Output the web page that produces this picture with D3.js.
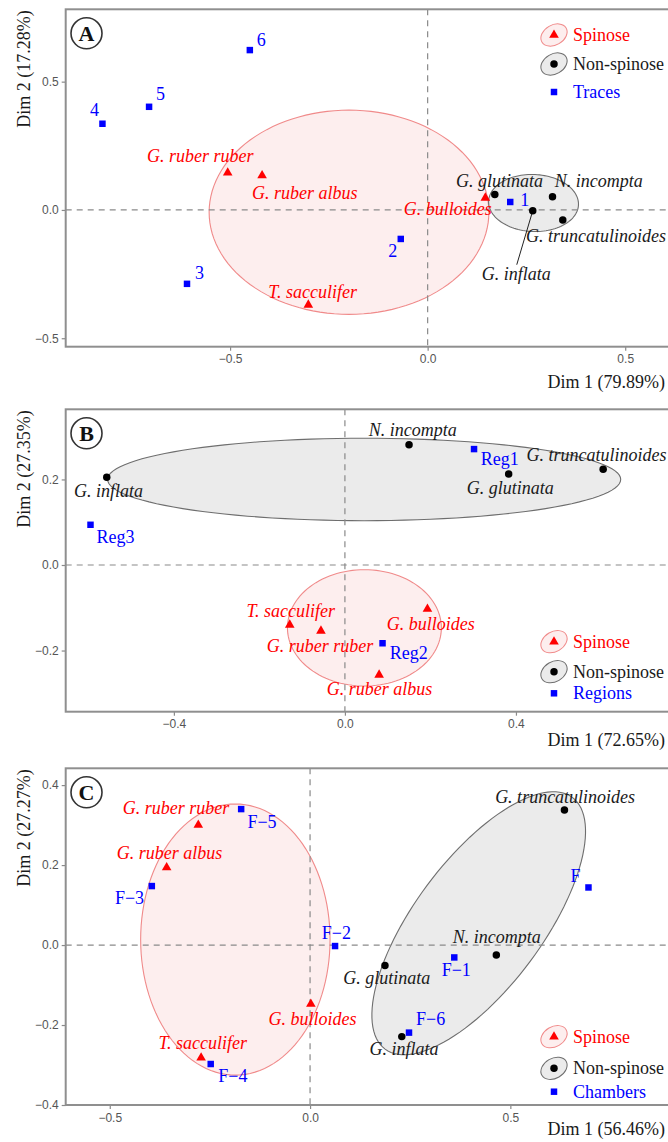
<!DOCTYPE html>
<html>
<head>
<meta charset="utf-8">
<script src="https://cdn.jsdelivr.net/npm/d3@7"></script>
<style>
  body { margin: 0; background: #fff; }
  svg { display: block; }
</style>
</head>
<body>
<div id="chart"></div>
<script>
// ---- data: panel A (traces) ----
const speciesA = [
  {name: "G. ruber ruber", group: "spinose", x: -0.506, y: 0.145},
  {name: "G. ruber albus", group: "spinose", x: -0.419, y: 0.134},
  {name: "T. sacculifer", group: "spinose", x: -0.302, y: -0.370},
  {name: "G. bulloides", group: "spinose", x: 0.146, y: 0.047},
  {name: "G. glutinata", group: "non", x: 0.170, y: 0.060},
  {name: "N. incompta", group: "non", x: 0.316, y: 0.051},
  {name: "G. inflata", group: "non", x: 0.266, y: -0.003},
  {name: "G. truncatulinoides", group: "non", x: 0.342, y: -0.039}
];
const tracesA = [
  {name: "1", x: 0.209, y: 0.031},
  {name: "2", x: -0.068, y: -0.113},
  {name: "3", x: -0.609, y: -0.288},
  {name: "4", x: -0.823, y: 0.336},
  {name: "5", x: -0.705, y: 0.402},
  {name: "6", x: -0.450, y: 0.623}
];
const ellipsesA = [
  {group: "spinose", cx: -0.199, cy: -0.009, a: 0.354, b: 0.398, angle: 0},
  {group: "non", cx: 0.268, cy: 0.027, a: 0.115, b: 0.110, angle: -30}
];

// ---- data: panel B (regions) ----
const speciesB = [
  {name: "T. sacculifer", group: "spinose", x: -0.129, y: -0.140},
  {name: "G. ruber ruber", group: "spinose", x: -0.056, y: -0.154},
  {name: "G. bulloides", group: "spinose", x: 0.193, y: -0.103},
  {name: "G. ruber albus", group: "spinose", x: 0.080, y: -0.257},
  {name: "G. inflata", group: "non", x: -0.557, y: 0.205},
  {name: "N. incompta", group: "non", x: 0.150, y: 0.281},
  {name: "G. glutinata", group: "non", x: 0.383, y: 0.213},
  {name: "G. truncatulinoides", group: "non", x: 0.604, y: 0.224}
];
const regionsB = [
  {name: "Reg1", x: 0.302, y: 0.271},
  {name: "Reg2", x: 0.088, y: -0.183},
  {name: "Reg3", x: -0.595, y: 0.094}
];
const ellipsesB = [
  {group: "non", cx: 0.045, cy: 0.200, a: 0.600, b: 0.0964, angle: 0},
  {group: "spinose", cx: 0.0456, cy: -0.147, a: 0.180, b: 0.136, angle: 0}
];

// ---- data: panel C (chambers) ----
const speciesC = [
  {name: "G. ruber ruber", group: "spinose", x: -0.279, y: 0.300},
  {name: "G. ruber albus", group: "spinose", x: -0.358, y: 0.194},
  {name: "G. bulloides", group: "spinose", x: 0.002, y: -0.1475},
  {name: "T. sacculifer", group: "spinose", x: -0.272, y: -0.282},
  {name: "G. truncatulinoides", group: "non", x: 0.635, y: 0.3375},
  {name: "N. incompta", group: "non", x: 0.465, y: -0.025},
  {name: "G. glutinata", group: "non", x: 0.187, y: -0.051},
  {name: "G. inflata", group: "non", x: 0.229, y: -0.229}
];
const chambersC = [
  {name: "F−1", x: 0.360, y: -0.031},
  {name: "F−2", x: 0.0624, y: -0.0025},
  {name: "F−3", x: -0.395, y: 0.1475},
  {name: "F−4", x: -0.248, y: -0.2975},
  {name: "F−5", x: -0.172, y: 0.340},
  {name: "F−6", x: 0.247, y: -0.219},
  {name: "F", x: 0.695, y: 0.144}
];
const ellipsesC = [
  {group: "spinose", cx: -0.1865, cy: 0.0138, a: 0.2364, b: 0.339, angle: 0},
  {group: "non", cx: 0.421, cy: 0.0545, a: 0.392, b: 0.160, angle: 53.4}
];

// axis ticks
const ticksA = {x: [-0.5, 0, 0.5], y: [-0.5, 0, 0.5]};
const ticksB = {x: [-0.4, 0, 0.4], y: [-0.2, 0, 0.2]};
const ticksC = {x: [-0.5, 0, 0.5], y: [-0.4, -0.2, 0, 0.2, 0.4]};

// label placement (pixel offsets from the point: dx, dy, anchor)
const placeA = {
  "G. ruber ruber": [-80.7, -10.7, "start"], "G. ruber albus": [-10, 23, "start"],
  "T. sacculifer": [-40, -7, "start"], "G. bulloides": [6.4, 17, "end"],
  "G. glutinata": [-38.7, -7.7, "start"], "N. incompta": [2.3, -10, "start"],
  "G. truncatulinoides": [-36.7, 21.7, "start"], "G. inflata": [-51, 69.3, "start"],
  "1": [10, 4, "start"], "2": [-3.5, 18, "end"], "3": [8, -5, "start"],
  "4": [-3.5, -8, "end"], "5": [7, -7, "start"], "6": [7, -4, "start"]
};
const placeB = {
  "G. inflata": [-32.7, 20, "start"], "Reg3": [6, 18.3, "start"],
  "N. incompta": [-40.3, -9.3, "start"], "Reg1": [6.7, 15.7, "start"],
  "G. glutinata": [-42, 20, "start"], "G. truncatulinoides": [-76.6, -8.6, "start"],
  "T. sacculifer": [-43.3, -8.3, "start"], "G. ruber ruber": [-54.3, 21, "start"],
  "G. bulloides": [-40.6, 21, "start"], "Reg2": [7.3, 16, "start"],
  "G. ruber albus": [-52.3, 20, "start"]
};
const placeC = {
  "G. ruber ruber": [-75.6, -11, "start"], "F−5": [6.3, 19.3, "start"],
  "G. ruber albus": [-50, -8, "start"], "F−3": [-7.7, 18, "end"],
  "F−2": [-13.3, -6.7, "start"], "G. bulloides": [-42.4, 21, "start"],
  "T. sacculifer": [-42.7, -8.7, "start"], "F−4": [7.6, 17.7, "start"],
  "G. truncatulinoides": [-69.3, -6.7, "start"], "F": [-8, -5.6, "end"],
  "N. incompta": [-43.6, -11.7, "start"], "F−1": [-12.6, 18.7, "start"],
  "G. glutinata": [-41.7, 18.7, "start"], "F−6": [7, -7.7, "start"],
  "G. inflata": [-32.4, 18.3, "start"]
};

const RED = "#ff0000", BLUE = "#0000ff", INK = "#1a1a1a";
const serif = "'Liberation Serif', 'Times New Roman', serif";
const W = 668, H = 1142, LEFT = 65.7, RIGHT = 675;

const svg = d3.select("#chart").append("svg")
  .attr("width", W).attr("height", H);

function ellipsePath(e, x, y) {
  const th = e.angle * Math.PI / 180;
  const pts = d3.range(0, 120).map(i => {
    const t = i / 120 * 2 * Math.PI;
    const ex = e.cx + e.a * Math.cos(t) * Math.cos(th) - e.b * Math.sin(t) * Math.sin(th);
    const ey = e.cy + e.a * Math.cos(t) * Math.sin(th) + e.b * Math.sin(t) * Math.cos(th);
    return [x(ex), y(ey)];
  });
  return d3.line().curve(d3.curveLinearClosed)(pts);
}

const sym = {
  spinose: d3.symbol().type(d3.symbolTriangle).size(40)(),
  non: d3.symbol().type(d3.symbolCircle).size(44)(),
  sup: d3.symbol().type(d3.symbolSquare).size(42)()
};
const fillOf = g => g === "spinose" ? RED : g === "non" ? "#000" : BLUE;

function panel(p) {
  const x = d3.scaleLinear().domain(p.xDomain).range([LEFT, RIGHT]);
  const y = d3.scaleLinear().domain(p.yDomain).range([p.bottom, p.top]);
  const g = svg.append("g");

  // confidence ellipses
  g.selectAll(".ell").data(p.ellipses).join("path")
    .attr("d", e => ellipsePath(e, x, y))
    .attr("fill", e => e.group === "spinose" ? "#fdeeee" : "#ebebeb")
    .attr("stroke", e => e.group === "spinose" ? "#f08a8a" : "#6e6e6e")
    .attr("stroke-width", 1.1);

  // zero lines
  g.append("line").attr("x1", LEFT).attr("x2", RIGHT)
    .attr("y1", y(0)).attr("y2", y(0));
  g.append("line").attr("x1", x(0)).attr("x2", x(0))
    .attr("y1", p.top).attr("y2", p.bottom);
  g.selectAll("line").attr("stroke", "#8a8a8a").attr("stroke-width", 1.2)
    .attr("stroke-dasharray", "6,5");

  // axes
  const fmt = d3.format(".1f");
  const ax = g.append("g").attr("transform", `translate(0,${p.bottom})`)
    .call(d3.axisBottom(x).tickValues(p.ticks.x).tickFormat(fmt).tickSize(4).tickSizeOuter(0).tickPadding(4));
  const ay = g.append("g").attr("transform", `translate(${LEFT},0)`)
    .call(d3.axisLeft(y).tickValues(p.ticks.y).tickFormat(fmt).tickSize(4).tickSizeOuter(0).tickPadding(3));
  [ax, ay].forEach(a => {
    a.select(".domain").remove();
    a.selectAll(".tick line").attr("stroke", "#8a8a8a").attr("stroke-width", 1.2);
    a.selectAll(".tick text").attr("fill", "#555")
      .style("font-family", "'Liberation Sans', Arial, sans-serif").style("font-size", "12px");
  });

  // frame
  g.append("rect").attr("x", LEFT).attr("y", p.top)
    .attr("width", RIGHT - LEFT).attr("height", p.bottom - p.top)
    .attr("fill", "none").attr("stroke", "#8f8f8f").attr("stroke-width", 2);

  // axis titles
  g.append("text").attr("x", 665).attr("y", p.xTitleY).attr("text-anchor", "end")
    .style("font-family", serif).style("font-size", "18px").attr("fill", INK)
    .text(p.xTitle);
  g.append("text").attr("transform", `translate(30,${p.top + 1}) rotate(-90)`)
    .attr("text-anchor", "end")
    .style("font-family", serif).style("font-size", "18px").attr("fill", INK)
    .text(p.yTitle);

  // leader line (panel A, G. inflata)
  if (p.leader) {
    const d = p.species.find(s => s.name === p.leader.name);
    g.append("line").attr("x1", x(d.x)).attr("y1", y(d.y))
      .attr("x2", x(d.x) + p.leader.dx).attr("y2", y(d.y) + p.leader.dy)
      .attr("stroke", "#222").attr("stroke-width", 1);
  }

  // points
  const all = p.species.concat(p.sup.map(s => Object.assign({group: "sup"}, s)));
  g.selectAll(".pt").data(all).join("path")
    .attr("transform", d => `translate(${x(d.x)},${y(d.y)})`)
    .attr("d", d => sym[d.group])
    .attr("fill", d => fillOf(d.group));

  // labels
  g.selectAll(".lab").data(all).join("text")
    .attr("x", d => x(d.x) + p.place[d.name][0])
    .attr("y", d => y(d.y) + p.place[d.name][1])
    .attr("text-anchor", d => p.place[d.name][2])
    .style("font-family", serif).style("font-size", "18px")
    .style("font-style", d => d.group === "sup" ? "normal" : "italic")
    .attr("fill", d => d.group === "spinose" ? RED : d.group === "non" ? INK : BLUE)
    .text(d => d.name);

  // panel letter
  const cy = p.top + 24;
  g.append("circle").attr("cx", 86.5).attr("cy", cy).attr("r", 15.5)
    .attr("fill", "#fff").attr("stroke", "#333").attr("stroke-width", 1.6);
  g.append("text").attr("x", 86.5).attr("y", cy + 7.5).attr("text-anchor", "middle")
    .style("font-family", serif).style("font-size", "22px").style("font-weight", "bold")
    .attr("fill", "#111").text(p.letter);

  // legend
  const lg = g.append("g");
  const items = [
    {label: "Spinose", group: "spinose", color: RED},
    {label: "Non-spinose", group: "non", color: INK},
    {label: p.supLabel, group: "sup", color: BLUE}
  ];
  items.forEach((it, i) => {
    const ly = p.legendY[i];
    if (it.group !== "sup") {
      lg.append("ellipse").attr("cx", 0).attr("cy", 0).attr("rx", 14).attr("ry", 10)
        .attr("transform", `translate(554,${ly}) rotate(-30)`)
        .attr("fill", it.group === "spinose" ? "#fdeeee" : "#ebebeb")
        .attr("stroke", it.group === "spinose" ? "#f08a8a" : "#6e6e6e");
    }
    lg.append("path").attr("transform", `translate(554,${ly})`)
      .attr("d", sym[it.group]).attr("fill", fillOf(it.group));
    lg.append("text").attr("x", 573).attr("y", ly + 6)
      .style("font-family", serif).style("font-size", "18px")
      .attr("fill", it.color).text(it.label);
  });
}

panel({
  letter: "A", top: 9.3, bottom: 346.7,
  xDomain: [-0.916, 0.626], yDomain: [-0.533, 0.782],
  ticks: ticksA, ellipses: ellipsesA, species: speciesA, sup: tracesA, place: placeA,
  leader: {name: "G. inflata", dx: -16, dy: 54},
  xTitle: "Dim 1 (79.89%)", yTitle: "Dim 2 (17.28%)", xTitleY: 388,
  supLabel: "Traces", legendY: [35, 64, 92]
});
panel({
  letter: "B", top: 409.3, bottom: 711.7,
  xDomain: [-0.653, 0.772], yDomain: [-0.343, 0.364],
  ticks: ticksB, ellipses: ellipsesB, species: speciesB, sup: regionsB, place: placeB,
  xTitle: "Dim 1 (72.65%)", yTitle: "Dim 2 (27.35%)", xTitleY: 746,
  supLabel: "Regions", legendY: [641.7, 671.7, 693.3]
});
panel({
  letter: "C", top: 768.3, bottom: 1105,
  xDomain: [-0.61, 0.911], yDomain: [-0.4, 0.442],
  ticks: ticksC, ellipses: ellipsesC, species: speciesC, sup: chambersC, place: placeC,
  xTitle: "Dim 1 (56.46%)", yTitle: "Dim 2 (27.27%)", xTitleY: 1135,
  supLabel: "Chambers", legendY: [1036.7, 1068.3, 1091.7]
});
</script>
</body>
</html>
